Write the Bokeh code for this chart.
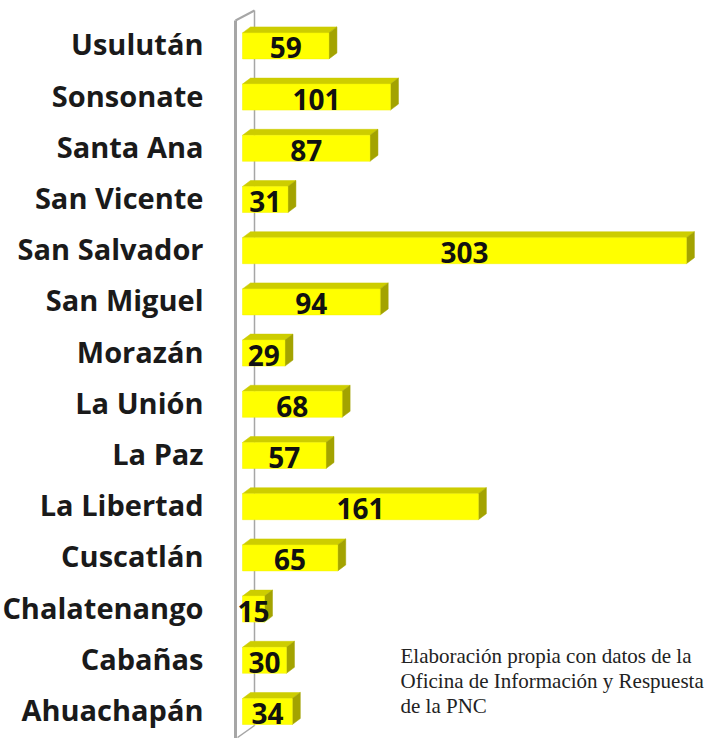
from bokeh.plotting import figure
from bokeh.embed import file_html
from bokeh.resources import INLINE
from bokeh.core.properties import value

departments = ["Ahuachapán", "Cabañas", "Chalatenango", "Cuscatlán", "La Libertad",
               "La Paz", "La Unión", "Morazán", "San Miguel", "San Salvador",
               "San Vicente", "Santa Ana", "Sonsonate", "Usulután"]
counts = [34, 30, 15, 65, 161, 57, 68, 29, 94, 303, 31, 87, 101, 59]
note_lines = ["Elaboración propia con datos de la",
              "Oficina de Información y Respuesta",
              "de la PNC"]

W, H = 711, 738
PX_X = 1.465          # pixels per unit of value
X0_PX = 242           # canvas x of value 0
PX_Y = 51.2           # pixels per category row
Y0_PX = 711.0         # canvas y of first category

def xv(px):
    return (px - X0_PX) / PX_X

def yv(px):
    return (Y0_PX - px) / PX_Y

p = figure(width=W, height=H, x_range=(xv(0), xv(W)), y_range=(yv(H), yv(0)),
           min_border=0, toolbar_location=None, output_backend="svg")
p.axis.visible = False
p.grid.visible = False
p.outline_line_color = None
p.background_fill_color = "white"

# axis wall (3D)
wall_col = "#A6A6A6"
p.line([xv(235), xv(235)], [yv(20), yv(742)], line_color=wall_col, line_width=3)
p.line([xv(235), xv(254)], [yv(20), yv(10)], line_color=wall_col, line_width=2)
p.line([xv(254), xv(254)], [yv(10), yv(725)], line_color=wall_col, line_width=1.5)
p.line([xv(237), xv(254)], [yv(737), yv(725)], line_color=wall_col, line_width=1.5)

half = 13.0 / PX_Y
dx = 8 / PX_X
dy = 6 / PX_Y
ys = list(range(len(departments)))

# top faces
top_xs = [[0, v, v + dx, dx] for v in counts]
top_ys = [[y + half, y + half, y + half + dy, y + half + dy] for y in ys]
p.patches(top_xs, top_ys, fill_color="#CDCD00", line_color="#CDCD00", line_width=0.5)
# side faces
side_xs = [[v, v + dx, v + dx, v] for v in counts]
side_ys = [[y - half, y - half + dy, y + half + dy, y + half] for y in ys]
p.patches(side_xs, side_ys, fill_color="#A3A300", line_color="#A3A300", line_width=0.5)
# front faces
p.quad(left=0, right=counts, bottom=[y - half for y in ys], top=[y + half for y in ys],
       fill_color="#FFFF00", line_color="#F2F200", line_width=0.5)

# value labels
p.text(x=[v / 2 for v in counts], y=[y - 2 / PX_Y for y in ys], text=[str(v) for v in counts],
       text_font=value("Open Sans"), text_font_style="bold", text_font_size="28px",
       text_align="center", text_baseline="middle", text_color="#111111")

# category labels
p.text(x=[xv(203)] * len(departments), y=[y + 2 / PX_Y for y in ys], text=departments,
       text_font=value("Open Sans"), text_font_style="bold", text_font_size="29px",
       text_align="right", text_baseline="middle", text_color="#1a1a1a")

# note
p.text(x=[xv(400)] * len(note_lines), y=[yv(655), yv(680), yv(705)], text=note_lines,
       text_font=value("Liberation Serif"), text_font_size="21px",
       text_align="left", text_baseline="middle", text_color="#222222")

open("out.html", "w").write(file_html(p, INLINE))
